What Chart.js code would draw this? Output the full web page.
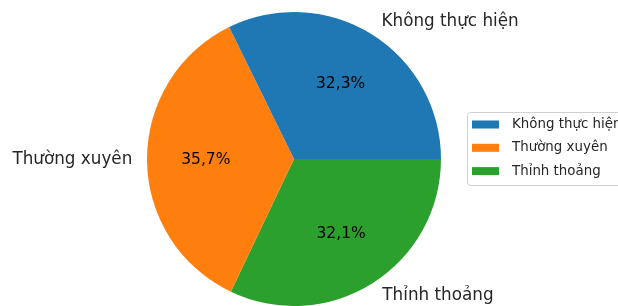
<!DOCTYPE html>
<html>
<head>
<meta charset="utf-8">
<script src="https://cdn.jsdelivr.net/npm/chart.js@4.4.1/dist/chart.umd.min.js"></script>
<style>
  html, body { margin: 0; padding: 0; background: #fff; }
  #wrap { width: 618px; height: 306px; }
</style>
</head>
<body>
<div id="wrap"><canvas id="pie-chart"></canvas></div>
<script>
const categories = ['Không thực hiện', 'Thường xuyên', 'Thỉnh thoảng'];
const values = [32.3, 35.7, 32.1];
const colors = ['#1f77b4', '#ff7f0e', '#2ca02c'];

// matplotlib draws counter-clockwise from 3 o'clock, Chart.js clockwise,
// so feed the slices in reverse order and start at 90 degrees
const drawOrder = [2, 1, 0];
const total = values.reduce((a, b) => a + b, 0);
const FONT = '"DejaVu Sans", sans-serif';

const labelPlugin = {
    id: 'mplLabels',
    afterDraw(chart) {
        const ctx = chart.ctx;
        const arcs = chart.getDatasetMeta(0).data;
        ctx.save();
        ctx.textBaseline = 'middle';
        arcs.forEach((arc, i) => {
            const k = drawOrder[i];
            const mid = (arc.startAngle + arc.endAngle) / 2;
            const r = arc.outerRadius;
            const cos = Math.cos(mid), sin = Math.sin(mid);

            // percentage inside the slice
            ctx.fillStyle = '#000';
            ctx.font = '15.5px ' + FONT;
            ctx.textAlign = 'center';
            const pct = (values[k] / total * 100).toFixed(1).replace('.', ',') + '%';
            ctx.fillText(pct, arc.x + cos * r * 0.6, arc.y + sin * r * 0.6);

            // category outside the slice
            ctx.fillStyle = '#262626';
            ctx.font = '16.8px ' + FONT;
            ctx.textAlign = cos >= 0 ? 'left' : 'right';
            ctx.fillText(categories[k], arc.x + cos * r * 1.1 + (cos >= 0 ? 2 : 0), arc.y + sin * r * 1.1);
        });

        // legend box in the matplotlib style
        const bx = 467.5, by = 112.5, bw = 170, bh = 73;
        ctx.fillStyle = 'rgba(255,255,255,0.8)';
        ctx.strokeStyle = '#d0d0d0';
        ctx.lineWidth = 1;
        ctx.beginPath();
        ctx.roundRect(bx, by, bw, bh, 3);
        ctx.fill();
        ctx.stroke();
        ctx.font = '13.4px ' + FONT;
        ctx.textAlign = 'left';
        categories.forEach((name, j) => {
            const cy = 124.5 + j * 23.3;
            ctx.fillStyle = colors[j];
            ctx.fillRect(472, cy - 4, 27, 8);
            ctx.fillStyle = '#262626';
            ctx.fillText(name, 512, cy);
        });
        ctx.restore();
    }
};

new Chart(document.getElementById('pie-chart'), {
    type: 'pie',
    data: {
        labels: drawOrder.map(k => categories[k]),
        datasets: [{
            data: drawOrder.map(k => values[k]),
            backgroundColor: drawOrder.map(k => colors[k]),
            borderWidth: 0
        }]
    },
    options: {
        responsive: true,
        maintainAspectRatio: false,
        animation: false,
        rotation: 90,
        layout: { padding: { left: 140, right: 170, top: 12, bottom: 0 } },
        events: [],
        plugins: {
            legend: { display: false },
            tooltip: { enabled: false }
        }
    },
    plugins: [labelPlugin]
});
</script>
</body>
</html>
